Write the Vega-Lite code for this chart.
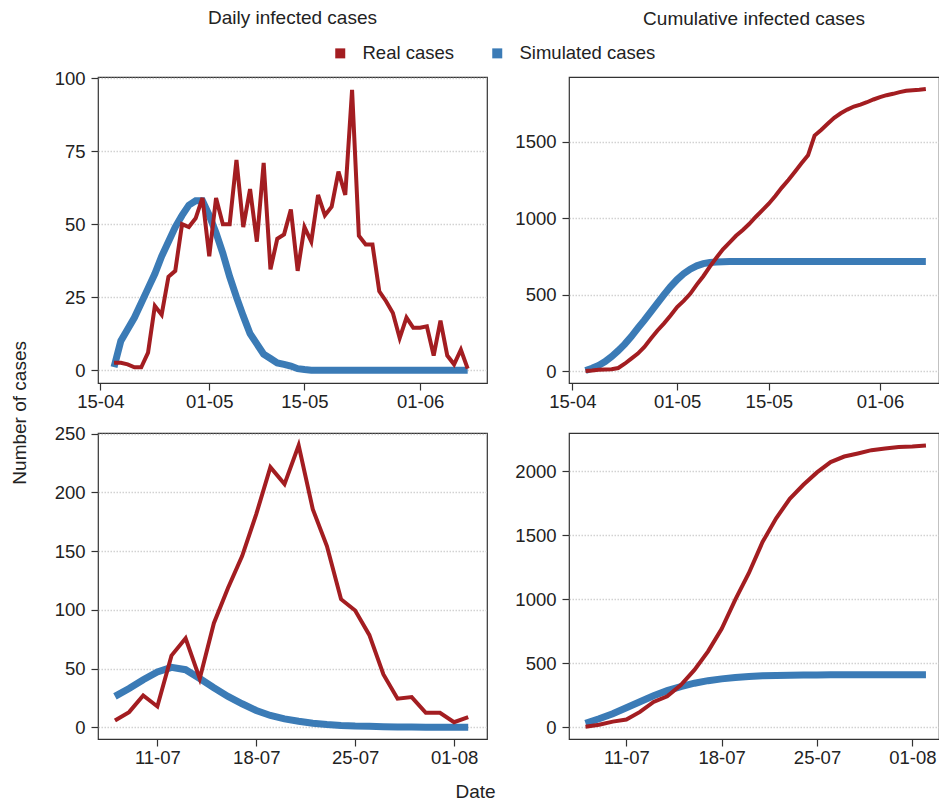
{
  "$schema": "https://vega.github.io/schema/vega-lite/v6.json",
  "background": "white",
  "padding": {"left": 10, "top": 8, "right": 0, "bottom": 0},
  "title": {"text": "Date", "orient": "bottom", "anchor": "middle", "offset": 16, "fontSize": 19, "fontWeight": "normal", "color": "#222222", "font": "Liberation Sans"},
  "config": {
    "font": "Liberation Sans",
    "view": {"stroke": "#333333", "strokeWidth": 1.2},
    "axis": {"labelFontSize": 18.5, "labelColor": "#222222", "labelFont": "Liberation Sans", "tickColor": "#333333", "tickSize": 7, "tickWidth": 1.2, "domain": false, "title": null},
    "axisY": {"grid": true, "gridColor": "#d2d2d2", "gridDash": [1.5, 1.5], "gridWidth": 1.5, "labelPadding": 6, "format": "d"},
    "axisX": {"grid": false, "labelPadding": 2},
    "title": {"fontSize": 19, "fontWeight": "normal", "color": "#222222", "font": "Liberation Sans"},
    "legend": {"labelFontSize": 18.5, "labelColor": "#222222", "labelFont": "Liberation Sans"}
  },
  "datasets": {
    "beijing": [
      {"date": "2022-04-17", "series": "Real cases", "daily": 2.5, "cumulative": 0},
      {"date": "2022-04-18", "series": "Real cases", "daily": 2.5, "cumulative": 4},
      {"date": "2022-04-19", "series": "Real cases", "daily": 2, "cumulative": 9},
      {"date": "2022-04-20", "series": "Real cases", "daily": 1, "cumulative": 11},
      {"date": "2022-04-21", "series": "Real cases", "daily": 1, "cumulative": 12},
      {"date": "2022-04-22", "series": "Real cases", "daily": 6, "cumulative": 20},
      {"date": "2022-04-23", "series": "Real cases", "daily": 22, "cumulative": 48},
      {"date": "2022-04-24", "series": "Real cases", "daily": 19, "cumulative": 81},
      {"date": "2022-04-25", "series": "Real cases", "daily": 32, "cumulative": 114},
      {"date": "2022-04-26", "series": "Real cases", "daily": 34, "cumulative": 158},
      {"date": "2022-04-27", "series": "Real cases", "daily": 50, "cumulative": 213},
      {"date": "2022-04-28", "series": "Real cases", "daily": 49, "cumulative": 265},
      {"date": "2022-04-29", "series": "Real cases", "daily": 52, "cumulative": 312},
      {"date": "2022-04-30", "series": "Real cases", "daily": 59, "cumulative": 363},
      {"date": "2022-05-01", "series": "Real cases", "daily": 39, "cumulative": 418},
      {"date": "2022-05-02", "series": "Real cases", "daily": 59, "cumulative": 459},
      {"date": "2022-05-03", "series": "Real cases", "daily": 50, "cumulative": 505},
      {"date": "2022-05-04", "series": "Real cases", "daily": 50, "cumulative": 565},
      {"date": "2022-05-05", "series": "Real cases", "daily": 72, "cumulative": 620},
      {"date": "2022-05-06", "series": "Real cases", "daily": 49, "cumulative": 683},
      {"date": "2022-05-07", "series": "Real cases", "daily": 62, "cumulative": 741},
      {"date": "2022-05-08", "series": "Real cases", "daily": 44, "cumulative": 796},
      {"date": "2022-05-09", "series": "Real cases", "daily": 71, "cumulative": 840},
      {"date": "2022-05-10", "series": "Real cases", "daily": 34.5, "cumulative": 884},
      {"date": "2022-05-11", "series": "Real cases", "daily": 45, "cumulative": 921},
      {"date": "2022-05-12", "series": "Real cases", "daily": 46.5, "cumulative": 961},
      {"date": "2022-05-13", "series": "Real cases", "daily": 55, "cumulative": 1007},
      {"date": "2022-05-14", "series": "Real cases", "daily": 34, "cumulative": 1050},
      {"date": "2022-05-15", "series": "Real cases", "daily": 49, "cumulative": 1094},
      {"date": "2022-05-16", "series": "Real cases", "daily": 44, "cumulative": 1144},
      {"date": "2022-05-17", "series": "Real cases", "daily": 60, "cumulative": 1199},
      {"date": "2022-05-18", "series": "Real cases", "daily": 53, "cumulative": 1249},
      {"date": "2022-05-19", "series": "Real cases", "daily": 56, "cumulative": 1303},
      {"date": "2022-05-20", "series": "Real cases", "daily": 68, "cumulative": 1358},
      {"date": "2022-05-21", "series": "Real cases", "daily": 60, "cumulative": 1410},
      {"date": "2022-05-22", "series": "Real cases", "daily": 96, "cumulative": 1539},
      {"date": "2022-05-23", "series": "Real cases", "daily": 46, "cumulative": 1576},
      {"date": "2022-05-24", "series": "Real cases", "daily": 43, "cumulative": 1616},
      {"date": "2022-05-25", "series": "Real cases", "daily": 43, "cumulative": 1655},
      {"date": "2022-05-26", "series": "Real cases", "daily": 27, "cumulative": 1685},
      {"date": "2022-05-27", "series": "Real cases", "daily": 23.6, "cumulative": 1709},
      {"date": "2022-05-28", "series": "Real cases", "daily": 19.6, "cumulative": 1729},
      {"date": "2022-05-29", "series": "Real cases", "daily": 11, "cumulative": 1742},
      {"date": "2022-05-30", "series": "Real cases", "daily": 18, "cumulative": 1757},
      {"date": "2022-05-31", "series": "Real cases", "daily": 14.5, "cumulative": 1775},
      {"date": "2022-06-01", "series": "Real cases", "daily": 14.5, "cumulative": 1790},
      {"date": "2022-06-02", "series": "Real cases", "daily": 15, "cumulative": 1803},
      {"date": "2022-06-03", "series": "Real cases", "daily": 5, "cumulative": 1812},
      {"date": "2022-06-04", "series": "Real cases", "daily": 17, "cumulative": 1823},
      {"date": "2022-06-05", "series": "Real cases", "daily": 5, "cumulative": 1832},
      {"date": "2022-06-06", "series": "Real cases", "daily": 2, "cumulative": 1836},
      {"date": "2022-06-07", "series": "Real cases", "daily": 7, "cumulative": 1838},
      {"date": "2022-06-08", "series": "Real cases", "daily": 0.5, "cumulative": 1843},
      {"date": "2022-04-17", "series": "Simulated cases", "daily": 1, "cumulative": 4},
      {"date": "2022-04-18", "series": "Simulated cases", "daily": 10, "cumulative": 18},
      {"date": "2022-04-19", "series": "Simulated cases", "daily": 14, "cumulative": 37},
      {"date": "2022-04-20", "series": "Simulated cases", "daily": 18, "cumulative": 62},
      {"date": "2022-04-21", "series": "Simulated cases", "daily": 23, "cumulative": 95},
      {"date": "2022-04-22", "series": "Simulated cases", "daily": 28, "cumulative": 133},
      {"date": "2022-04-23", "series": "Simulated cases", "daily": 33, "cumulative": 176},
      {"date": "2022-04-24", "series": "Simulated cases", "daily": 39, "cumulative": 225},
      {"date": "2022-04-25", "series": "Simulated cases", "daily": 44, "cumulative": 280},
      {"date": "2022-04-26", "series": "Simulated cases", "daily": 49, "cumulative": 333},
      {"date": "2022-04-27", "series": "Simulated cases", "daily": 53, "cumulative": 389},
      {"date": "2022-04-28", "series": "Simulated cases", "daily": 56.5, "cumulative": 444},
      {"date": "2022-04-29", "series": "Simulated cases", "daily": 58, "cumulative": 499},
      {"date": "2022-04-30", "series": "Simulated cases", "daily": 58, "cumulative": 552},
      {"date": "2022-05-01", "series": "Simulated cases", "daily": 53, "cumulative": 598},
      {"date": "2022-05-02", "series": "Simulated cases", "daily": 47, "cumulative": 636},
      {"date": "2022-05-03", "series": "Simulated cases", "daily": 40, "cumulative": 666},
      {"date": "2022-05-04", "series": "Simulated cases", "daily": 32, "cumulative": 688},
      {"date": "2022-05-05", "series": "Simulated cases", "daily": 25, "cumulative": 702},
      {"date": "2022-05-06", "series": "Simulated cases", "daily": 18.5, "cumulative": 709},
      {"date": "2022-05-07", "series": "Simulated cases", "daily": 12.5, "cumulative": 713},
      {"date": "2022-05-08", "series": "Simulated cases", "daily": 9, "cumulative": 715},
      {"date": "2022-05-09", "series": "Simulated cases", "daily": 5.5, "cumulative": 716},
      {"date": "2022-05-10", "series": "Simulated cases", "daily": 4, "cumulative": 716},
      {"date": "2022-05-11", "series": "Simulated cases", "daily": 2.5, "cumulative": 716},
      {"date": "2022-05-12", "series": "Simulated cases", "daily": 2, "cumulative": 716},
      {"date": "2022-05-13", "series": "Simulated cases", "daily": 1.4, "cumulative": 716},
      {"date": "2022-05-14", "series": "Simulated cases", "daily": 0.5, "cumulative": 716},
      {"date": "2022-05-15", "series": "Simulated cases", "daily": 0.2, "cumulative": 716},
      {"date": "2022-05-16", "series": "Simulated cases", "daily": 0, "cumulative": 716},
      {"date": "2022-05-17", "series": "Simulated cases", "daily": 0, "cumulative": 716},
      {"date": "2022-05-18", "series": "Simulated cases", "daily": 0, "cumulative": 716},
      {"date": "2022-05-19", "series": "Simulated cases", "daily": 0, "cumulative": 716},
      {"date": "2022-05-20", "series": "Simulated cases", "daily": 0, "cumulative": 716},
      {"date": "2022-05-21", "series": "Simulated cases", "daily": 0, "cumulative": 716},
      {"date": "2022-05-22", "series": "Simulated cases", "daily": 0, "cumulative": 716},
      {"date": "2022-05-23", "series": "Simulated cases", "daily": 0, "cumulative": 716},
      {"date": "2022-05-24", "series": "Simulated cases", "daily": 0, "cumulative": 716},
      {"date": "2022-05-25", "series": "Simulated cases", "daily": 0, "cumulative": 716},
      {"date": "2022-05-26", "series": "Simulated cases", "daily": 0, "cumulative": 716},
      {"date": "2022-05-27", "series": "Simulated cases", "daily": 0, "cumulative": 716},
      {"date": "2022-05-28", "series": "Simulated cases", "daily": 0, "cumulative": 716},
      {"date": "2022-05-29", "series": "Simulated cases", "daily": 0, "cumulative": 716},
      {"date": "2022-05-30", "series": "Simulated cases", "daily": 0, "cumulative": 716},
      {"date": "2022-05-31", "series": "Simulated cases", "daily": 0, "cumulative": 716},
      {"date": "2022-06-01", "series": "Simulated cases", "daily": 0, "cumulative": 716},
      {"date": "2022-06-02", "series": "Simulated cases", "daily": 0, "cumulative": 716},
      {"date": "2022-06-03", "series": "Simulated cases", "daily": 0, "cumulative": 716},
      {"date": "2022-06-04", "series": "Simulated cases", "daily": 0, "cumulative": 716},
      {"date": "2022-06-05", "series": "Simulated cases", "daily": 0, "cumulative": 716},
      {"date": "2022-06-06", "series": "Simulated cases", "daily": 0, "cumulative": 716},
      {"date": "2022-06-07", "series": "Simulated cases", "daily": 0, "cumulative": 716},
      {"date": "2022-06-08", "series": "Simulated cases", "daily": 0, "cumulative": 716}
    ],
    "lanzhou": [
      {"date": "2022-07-08", "series": "Real cases", "daily": 5.7, "cumulative": 3},
      {"date": "2022-07-09", "series": "Real cases", "daily": 12.9, "cumulative": 19},
      {"date": "2022-07-10", "series": "Real cases", "daily": 27, "cumulative": 44},
      {"date": "2022-07-11", "series": "Real cases", "daily": 17.7, "cumulative": 60},
      {"date": "2022-07-12", "series": "Real cases", "daily": 61, "cumulative": 120},
      {"date": "2022-07-13", "series": "Real cases", "daily": 75.7, "cumulative": 198},
      {"date": "2022-07-14", "series": "Real cases", "daily": 41.4, "cumulative": 242},
      {"date": "2022-07-15", "series": "Real cases", "daily": 88.6, "cumulative": 330},
      {"date": "2022-07-16", "series": "Real cases", "daily": 118.6, "cumulative": 448},
      {"date": "2022-07-17", "series": "Real cases", "daily": 145.7, "cumulative": 593},
      {"date": "2022-07-18", "series": "Real cases", "daily": 181.4, "cumulative": 770},
      {"date": "2022-07-19", "series": "Real cases", "daily": 221.4, "cumulative": 998},
      {"date": "2022-07-20", "series": "Real cases", "daily": 207, "cumulative": 1206},
      {"date": "2022-07-21", "series": "Real cases", "daily": 240, "cumulative": 1448},
      {"date": "2022-07-22", "series": "Real cases", "daily": 185.7, "cumulative": 1633},
      {"date": "2022-07-23", "series": "Real cases", "daily": 154.3, "cumulative": 1786},
      {"date": "2022-07-24", "series": "Real cases", "daily": 109, "cumulative": 1895},
      {"date": "2022-07-25", "series": "Real cases", "daily": 99.4, "cumulative": 1992},
      {"date": "2022-07-26", "series": "Real cases", "daily": 78.6, "cumulative": 2073},
      {"date": "2022-07-27", "series": "Real cases", "daily": 45, "cumulative": 2116},
      {"date": "2022-07-28", "series": "Real cases", "daily": 24.3, "cumulative": 2140},
      {"date": "2022-07-29", "series": "Real cases", "daily": 25.7, "cumulative": 2166},
      {"date": "2022-07-30", "series": "Real cases", "daily": 12.3, "cumulative": 2178},
      {"date": "2022-07-31", "series": "Real cases", "daily": 12.3, "cumulative": 2190},
      {"date": "2022-08-01", "series": "Real cases", "daily": 4.3, "cumulative": 2195},
      {"date": "2022-08-02", "series": "Real cases", "daily": 8.6, "cumulative": 2203},
      {"date": "2022-07-08", "series": "Simulated cases", "daily": 26.3, "cumulative": 31},
      {"date": "2022-07-09", "series": "Simulated cases", "daily": 33, "cumulative": 66},
      {"date": "2022-07-10", "series": "Simulated cases", "daily": 40.5, "cumulative": 105},
      {"date": "2022-07-11", "series": "Simulated cases", "daily": 47, "cumulative": 152},
      {"date": "2022-07-12", "series": "Simulated cases", "daily": 51, "cumulative": 199},
      {"date": "2022-07-13", "series": "Simulated cases", "daily": 49, "cumulative": 246},
      {"date": "2022-07-14", "series": "Simulated cases", "daily": 41.5, "cumulative": 286},
      {"date": "2022-07-15", "series": "Simulated cases", "daily": 33.7, "cumulative": 318},
      {"date": "2022-07-16", "series": "Simulated cases", "daily": 26.3, "cumulative": 344},
      {"date": "2022-07-17", "series": "Simulated cases", "daily": 20, "cumulative": 364},
      {"date": "2022-07-18", "series": "Simulated cases", "daily": 14.3, "cumulative": 378},
      {"date": "2022-07-19", "series": "Simulated cases", "daily": 10, "cumulative": 389},
      {"date": "2022-07-20", "series": "Simulated cases", "daily": 7.1, "cumulative": 397},
      {"date": "2022-07-21", "series": "Simulated cases", "daily": 5.1, "cumulative": 402},
      {"date": "2022-07-22", "series": "Simulated cases", "daily": 3.4, "cumulative": 405},
      {"date": "2022-07-23", "series": "Simulated cases", "daily": 2.3, "cumulative": 407},
      {"date": "2022-07-24", "series": "Simulated cases", "daily": 1.5, "cumulative": 408},
      {"date": "2022-07-25", "series": "Simulated cases", "daily": 1, "cumulative": 409},
      {"date": "2022-07-26", "series": "Simulated cases", "daily": 0.8, "cumulative": 409.5},
      {"date": "2022-07-27", "series": "Simulated cases", "daily": 0.5, "cumulative": 410},
      {"date": "2022-07-28", "series": "Simulated cases", "daily": 0.3, "cumulative": 410},
      {"date": "2022-07-29", "series": "Simulated cases", "daily": 0.2, "cumulative": 410},
      {"date": "2022-07-30", "series": "Simulated cases", "daily": 0.1, "cumulative": 410},
      {"date": "2022-07-31", "series": "Simulated cases", "daily": 0.1, "cumulative": 410},
      {"date": "2022-08-01", "series": "Simulated cases", "daily": 0, "cumulative": 410},
      {"date": "2022-08-02", "series": "Simulated cases", "daily": 0, "cumulative": 410}
    ]
  },
  "hconcat": [
    {
      "title": {"text": "Number of cases", "orient": "left", "anchor": "middle", "offset": 24, "dx": -25},
      "columns": 2,
      "bounds": "flush",
      "spacing": {"row": 50, "column": 82},
      "concat": [
        {
          "width": 389, "height": 306,
          "title": {"text": "Daily infected cases", "frame": "group", "offset": 41},
          "data": {"name": "beijing"},
          "encoding": {
            "x": {"field": "date", "type": "temporal", "scale": {"type": "utc", "domain": ["2022-04-14T15:22:00Z", "2022-06-10T20:10:00Z"]}, "axis": {"values": [{"year": 2022, "month": 4, "date": 15, "utc": true}, {"year": 2022, "month": 5, "date": 1, "utc": true}, {"year": 2022, "month": 5, "date": 15, "utc": true}, {"year": 2022, "month": 6, "date": 1, "utc": true}], "format": "%d-%m"}},
            "y": {"field": "daily", "type": "quantitative", "scale": {"domain": [-4.4, 100.4], "nice": false, "zero": false}, "axis": {"values": [0, 25, 50, 75, 100]}},
            "color": {"field": "series", "type": "nominal", "scale": {"domain": ["Real cases", "Simulated cases"], "range": ["#a31d21", "#3b7bb6"]}, "legend": {"title": null, "orient": "none", "direction": "horizontal", "legendX": 233, "legendY": -33, "symbolType": "square", "symbolSize": 100, "labelOffset": 13, "columnPadding": 33, "padding": 0, "encode": {"symbols": {"update": {"fill": {"scale": "color", "field": "value"}, "strokeWidth": {"value": 0}}}}}}
          },
          "layer": [
            {"transform": [{"filter": "datum.series === 'Simulated cases'"}], "mark": {"type": "line", "strokeWidth": 7}},
            {"transform": [{"filter": "datum.series === 'Real cases'"}], "mark": {"type": "line", "strokeWidth": 4}},
            {"data": {"values": [{"label": "Beijing"}]}, "mark": {"type": "text", "align": "left", "baseline": "middle", "fontSize": 19, "color": "#222222"}, "encoding": {"x": {"datum": {"year": 2022, "month": 4, "date": 17, "utc": true}, "type": "temporal"}, "y": {"datum": 91}, "text": {"field": "label"}, "color": null}}
          ]
        },
        {
          "width": 370, "height": 306,
          "title": {"text": "Cumulative infected cases", "frame": "group", "offset": 48},
          "data": {"name": "beijing"},
          "encoding": {
            "x": {"field": "date", "type": "temporal", "scale": {"type": "utc", "domain": ["2022-04-14T11:31:00Z", "2022-06-10T00:15:00Z"]}, "axis": {"values": [{"year": 2022, "month": 4, "date": 15, "utc": true}, {"year": 2022, "month": 5, "date": 1, "utc": true}, {"year": 2022, "month": 5, "date": 15, "utc": true}, {"year": 2022, "month": 6, "date": 1, "utc": true}], "format": "%d-%m"}},
            "y": {"field": "cumulative", "type": "quantitative", "scale": {"domain": [-78, 1922], "nice": false, "zero": false}, "axis": {"values": [0, 500, 1000, 1500]}},
            "color": {"field": "series", "type": "nominal", "scale": {"domain": ["Real cases", "Simulated cases"], "range": ["#a31d21", "#3b7bb6"]}, "legend": {"title": null, "orient": "none", "direction": "horizontal", "legendX": 233, "legendY": -33, "symbolType": "square", "symbolSize": 100, "labelOffset": 13, "columnPadding": 33, "padding": 0, "encode": {"symbols": {"update": {"fill": {"scale": "color", "field": "value"}, "strokeWidth": {"value": 0}}}}}}
          },
          "layer": [
            {"transform": [{"filter": "datum.series === 'Simulated cases'"}], "mark": {"type": "line", "strokeWidth": 7}},
            {"transform": [{"filter": "datum.series === 'Real cases'"}], "mark": {"type": "line", "strokeWidth": 4}},
            {"data": {"values": [{"label": "Beijing"}]}, "mark": {"type": "text", "align": "left", "baseline": "middle", "fontSize": 19, "color": "#222222"}, "encoding": {"x": {"datum": {"year": 2022, "month": 4, "date": 17, "utc": true}, "type": "temporal"}, "y": {"datum": 1759}, "text": {"field": "label"}, "color": null}}
          ]
        },
        {
          "width": 389, "height": 306,
          "data": {"name": "lanzhou"},
          "encoding": {
            "x": {"field": "date", "type": "temporal", "scale": {"type": "utc", "domain": ["2022-07-06T19:12:00Z", "2022-08-03T07:55:00Z"]}, "axis": {"values": [{"year": 2022, "month": 7, "date": 11, "utc": true}, {"year": 2022, "month": 7, "date": 18, "utc": true}, {"year": 2022, "month": 7, "date": 25, "utc": true}, {"year": 2022, "month": 8, "date": 1, "utc": true}], "format": "%d-%m"}},
            "y": {"field": "daily", "type": "quantitative", "scale": {"domain": [-10, 250.5], "nice": false, "zero": false}, "axis": {"values": [0, 50, 100, 150, 200, 250]}},
            "color": {"field": "series", "type": "nominal", "scale": {"domain": ["Real cases", "Simulated cases"], "range": ["#a31d21", "#3b7bb6"]}, "legend": {"title": null, "orient": "none", "direction": "horizontal", "legendX": 233, "legendY": -33, "symbolType": "square", "symbolSize": 100, "labelOffset": 13, "columnPadding": 33, "padding": 0, "encode": {"symbols": {"update": {"fill": {"scale": "color", "field": "value"}, "strokeWidth": {"value": 0}}}}}}
          },
          "layer": [
            {"transform": [{"filter": "datum.series === 'Simulated cases'"}], "mark": {"type": "line", "strokeWidth": 7}},
            {"transform": [{"filter": "datum.series === 'Real cases'"}], "mark": {"type": "line", "strokeWidth": 4}},
            {"data": {"values": [{"label": "Lanzhou"}]}, "mark": {"type": "text", "align": "left", "baseline": "middle", "fontSize": 19, "color": "#222222"}, "encoding": {"x": {"datum": {"year": 2022, "month": 7, "date": 8, "utc": true}, "type": "temporal"}, "y": {"datum": 227}, "text": {"field": "label"}, "color": null}}
          ]
        },
        {
          "width": 370, "height": 306,
          "data": {"name": "lanzhou"},
          "encoding": {
            "x": {"field": "date", "type": "temporal", "scale": {"type": "utc", "domain": ["2022-07-06T18:55:00Z", "2022-08-02T23:00:00Z"]}, "axis": {"values": [{"year": 2022, "month": 7, "date": 11, "utc": true}, {"year": 2022, "month": 7, "date": 18, "utc": true}, {"year": 2022, "month": 7, "date": 25, "utc": true}, {"year": 2022, "month": 8, "date": 1, "utc": true}], "format": "%d-%m"}},
            "y": {"field": "cumulative", "type": "quantitative", "scale": {"domain": [-92, 2300], "nice": false, "zero": false}, "axis": {"values": [0, 500, 1000, 1500, 2000]}},
            "color": {"field": "series", "type": "nominal", "scale": {"domain": ["Real cases", "Simulated cases"], "range": ["#a31d21", "#3b7bb6"]}, "legend": {"title": null, "orient": "none", "direction": "horizontal", "legendX": 233, "legendY": -33, "symbolType": "square", "symbolSize": 100, "labelOffset": 13, "columnPadding": 33, "padding": 0, "encode": {"symbols": {"update": {"fill": {"scale": "color", "field": "value"}, "strokeWidth": {"value": 0}}}}}}
          },
          "layer": [
            {"transform": [{"filter": "datum.series === 'Simulated cases'"}], "mark": {"type": "line", "strokeWidth": 7}},
            {"transform": [{"filter": "datum.series === 'Real cases'"}], "mark": {"type": "line", "strokeWidth": 4}},
            {"data": {"values": [{"label": "Lanzhou"}]}, "mark": {"type": "text", "align": "left", "baseline": "middle", "fontSize": 19, "color": "#222222"}, "encoding": {"x": {"datum": {"year": 2022, "month": 7, "date": 8, "utc": true}, "type": "temporal"}, "y": {"datum": 2095}, "text": {"field": "label"}, "color": null}}
          ]
        }
      ]
    }
  ]
}
